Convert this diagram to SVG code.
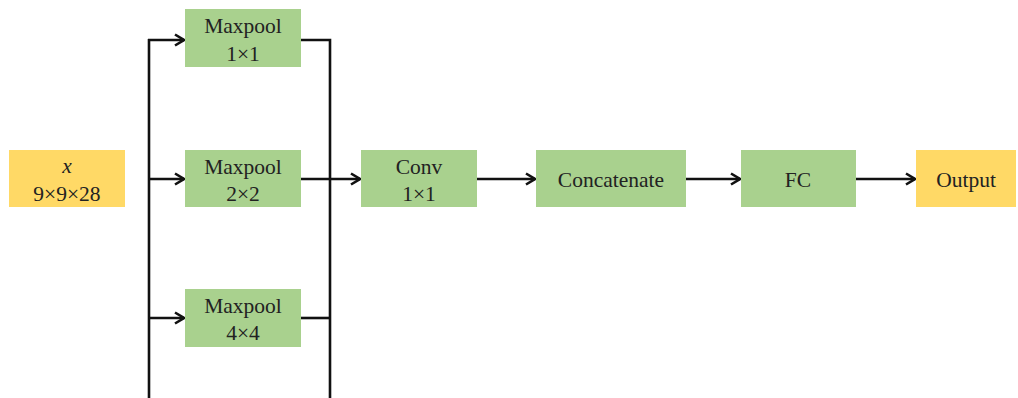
<svg xmlns="http://www.w3.org/2000/svg" width="1018" height="398" viewBox="0 0 1018 398">
<defs>
<marker id="arr" viewBox="0 0 14 14" refX="13" refY="7" markerWidth="14" markerHeight="14" markerUnits="userSpaceOnUse" orient="auto">
<path d="M4,1.5 L13,7 L4,12.5" fill="none" stroke="#111" stroke-width="2.6" stroke-linejoin="miter"/>
</marker>
</defs>
<style>
.g{fill:#A9D18E}
.y{fill:#FFD966}
text{font-family:"Liberation Serif","Times New Roman",serif;font-size:21.5px;fill:#222;text-anchor:middle}
.c line,.c polyline{stroke:#111;stroke-width:2.6;fill:none}
</style>
<g id="x-input"><rect class="y" x="9" y="150" width="116" height="57"/><text x="67" y="173" font-style="italic">x</text><text x="67" y="201">9×9×28</text></g>
<g id="maxpool1"><rect class="g" x="185" y="9" width="116" height="58"/><text x="243" y="33">Maxpool</text><text x="243" y="61">1×1</text></g>
<g id="maxpool2"><rect class="g" x="185" y="150" width="116" height="57"/><text x="243" y="174">Maxpool</text><text x="243" y="201">2×2</text></g>
<g id="maxpool4"><rect class="g" x="185" y="289" width="116" height="58"/><text x="243" y="313">Maxpool</text><text x="243" y="340">4×4</text></g>
<g id="conv"><rect class="g" x="361" y="150" width="116" height="57"/><text x="419" y="174">Conv</text><text x="419" y="201">1×1</text></g>
<g id="concat"><rect class="g" x="536" y="150" width="150" height="57"/><text x="611" y="187">Concatenate</text></g>
<g id="fc"><rect class="g" x="741" y="150" width="115" height="57"/><text x="798" y="187">FC</text></g>
<g id="output"><rect class="y" x="916" y="150" width="100" height="57"/><text x="966" y="187">Output</text></g>
<g id="connectors" class="c">
<line x1="149" y1="39" x2="149" y2="398"/>
<line x1="148" y1="40" x2="184" y2="40" marker-end="url(#arr)"/>
<line x1="149" y1="179" x2="184" y2="179" marker-end="url(#arr)"/>
<line x1="149" y1="318" x2="184" y2="318" marker-end="url(#arr)"/>
<polyline points="301,40 330,40 330,398"/>
<line x1="301" y1="318" x2="330" y2="318"/>
<line x1="301" y1="179" x2="360" y2="179" marker-end="url(#arr)"/>
<line x1="477" y1="179" x2="535" y2="179" marker-end="url(#arr)"/>
<line x1="686" y1="179" x2="740" y2="179" marker-end="url(#arr)"/>
<line x1="856" y1="179" x2="915" y2="179" marker-end="url(#arr)"/>
</g>
</svg>
